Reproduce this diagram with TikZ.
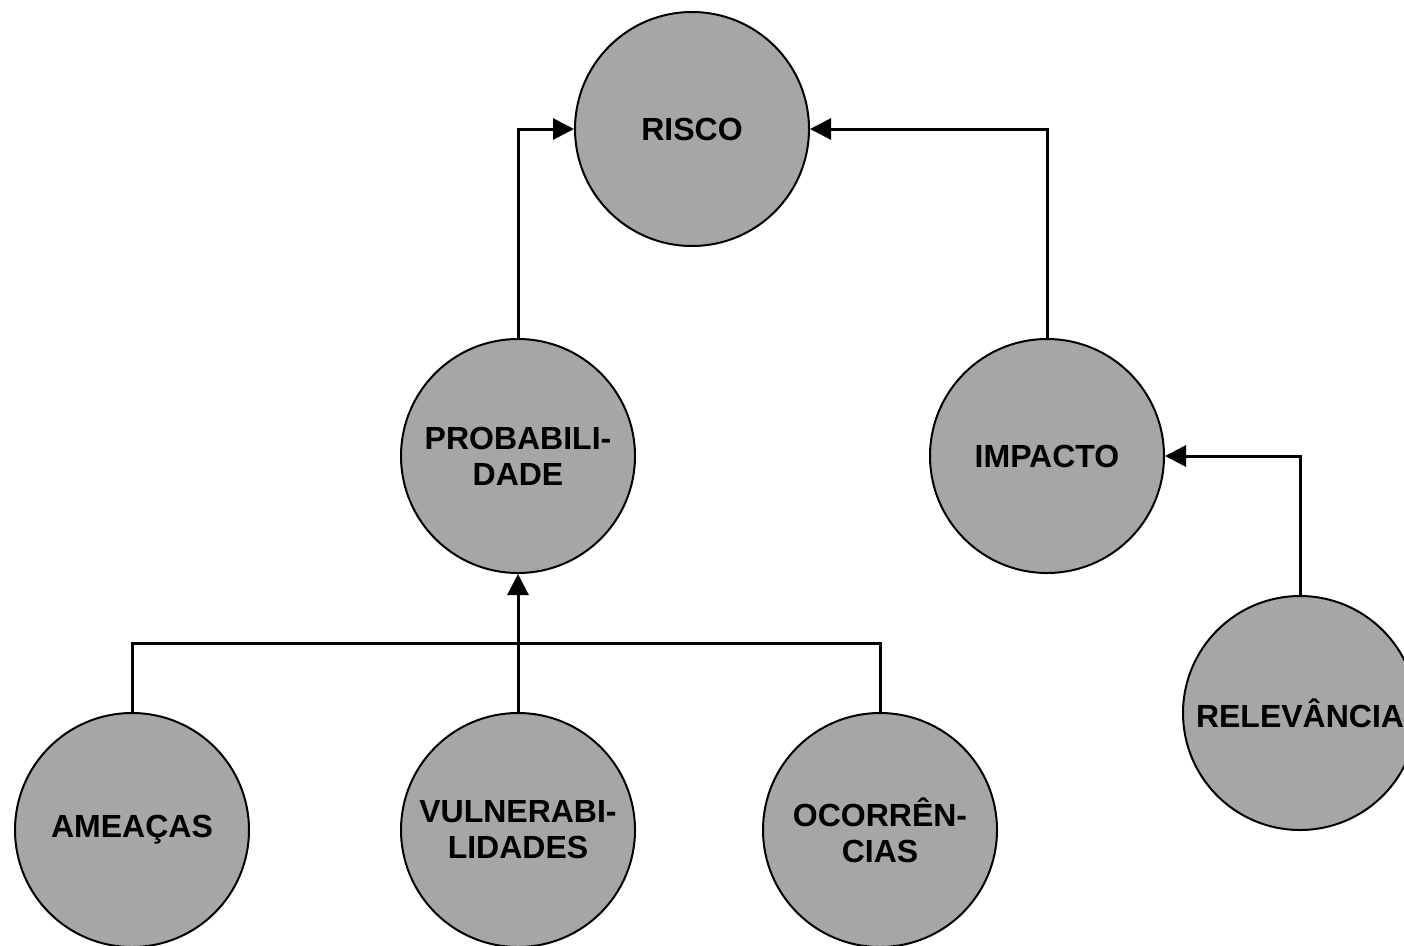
\documentclass[tikz,border=0pt]{standalone}
\usepackage{fontspec}
\setmainfont{Liberation Sans}
\usetikzlibrary{arrows.meta}
\definecolor{bubble}{RGB}{166,166,166}
\tikzset{
  concept/.style={circle, draw=black, line width=2pt, fill=bubble,
    minimum size=234pt, inner sep=0pt, align=center,
    font=\fontsize{32}{36}\selectfont\bfseries},
  link/.style={line width=3pt, black},
  feed/.style={link, -{Triangle[length=21pt,width=21pt]}}
}
\begin{document}
\begin{tikzpicture}[x=1pt, y=-1pt]
  \useasboundingbox (0,0) rectangle (1404,945);
  \clip (0,0) rectangle (1404,945);

  % concepts
  \node[concept] (risco) at (692,129) {RISCO};
  \node[concept] (prob)  at (518,456) {PROBABILI-\\DADE};
  \node[concept] (imp)   at (1047,456) {IMPACTO};
  \node[concept] (rel)   at (1300,713) {RELEVÂNCIA};
  \node[concept] (ame)   at (132,830) {AMEAÇAS};
  \node[concept] (vul)   at (518,830) {VULNERABI-\\LIDADES};
  \node[concept] (oco)   at (880,830) {OCORRÊN-\\CIAS};

  % connectors into RISCO and IMPACTO
  \draw[feed] (prob.north) |- (risco.west);
  \draw[feed] (imp.north) |- (risco.east);
  \draw[feed] (rel.north) |- (imp.east);

  % shared bus from the three factors into PROBABILIDADE
  \coordinate (bus) at (132,643);
  \draw[link] (ame.north) -- (bus) -| (oco.north);
  \draw[feed] (vul.north) -- (prob.south);
\end{tikzpicture}
\end{document}
